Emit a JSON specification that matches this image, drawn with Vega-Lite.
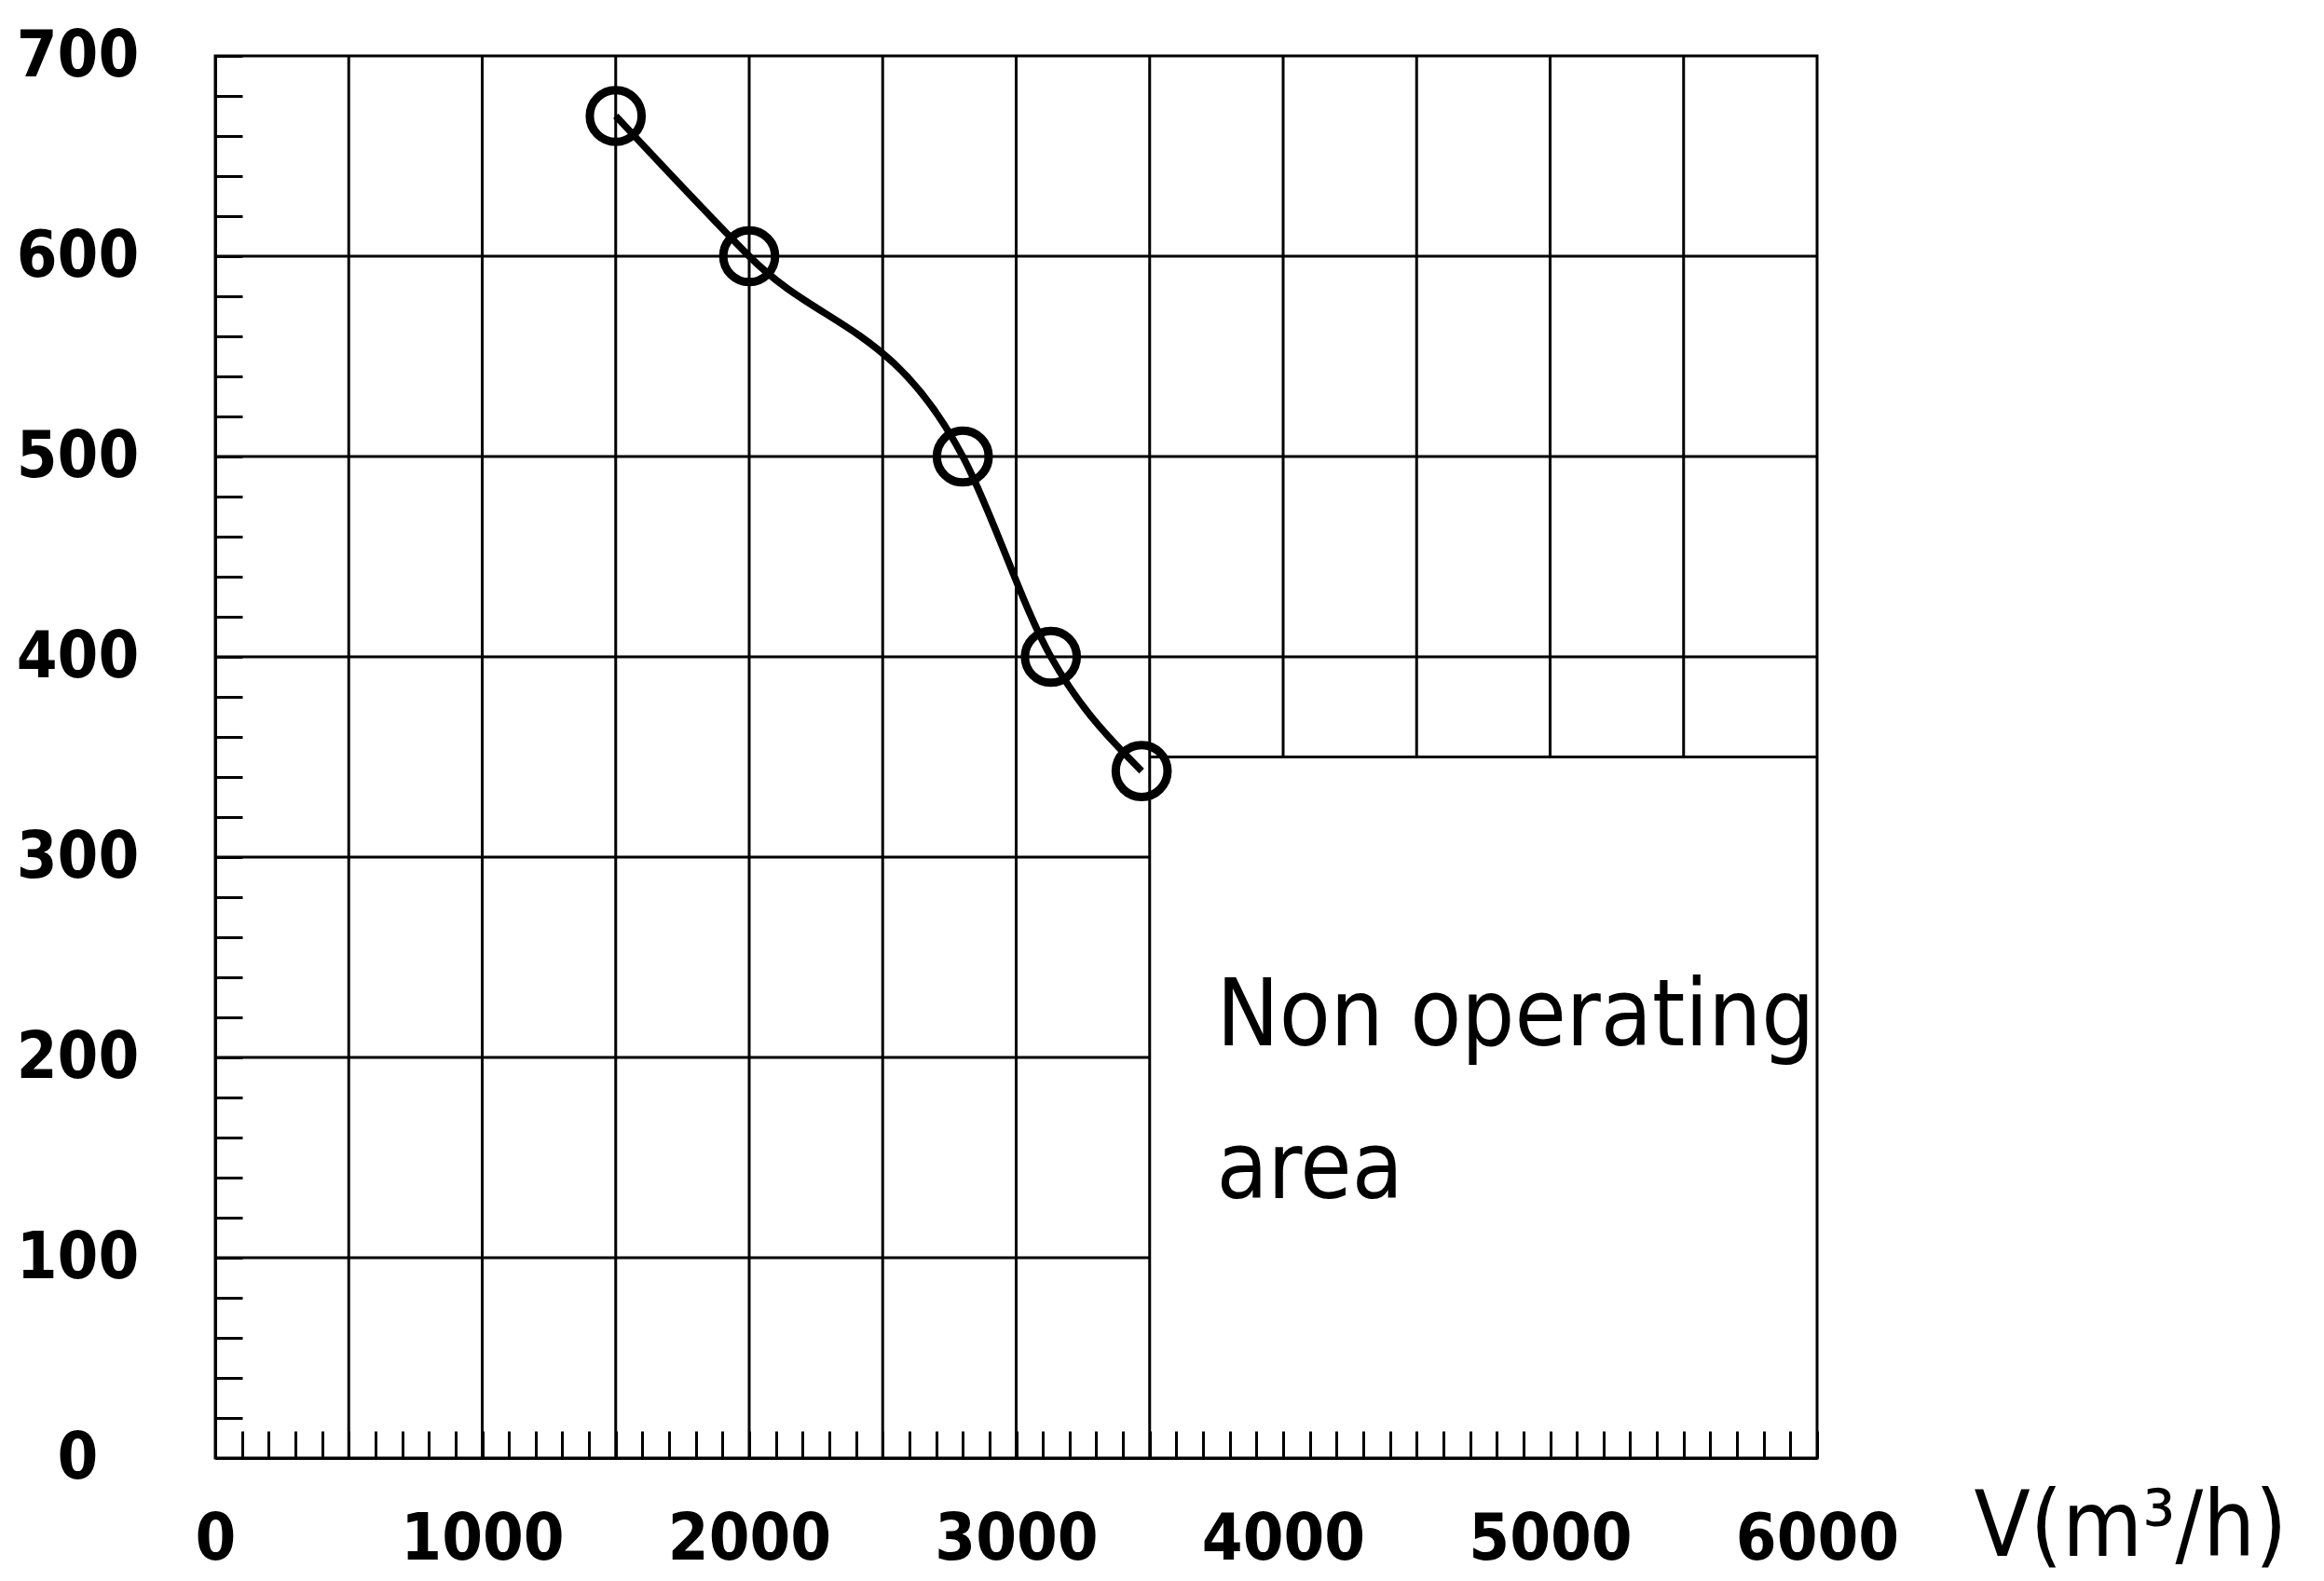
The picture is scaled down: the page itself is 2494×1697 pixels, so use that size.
{
  "$schema": "https://vega.github.io/schema/vega-lite/v6.json",
  "width": 1719,
  "height": 1505,
  "autosize": {"type": "none"},
  "padding": {"left": 231, "top": 60, "right": 544, "bottom": 132},
  "background": "white",
  "config": {
    "view": {"stroke": "black", "strokeWidth": 3},
    "font": "DejaVu Sans Condensed, DejaVu Sans"
  },
  "datasets": {
    "curve": [
      {"V": 1500, "p": 670},
      {"V": 2000, "p": 600},
      {"V": 2800, "p": 500},
      {"V": 3130, "p": 400},
      {"V": 3470, "p": 343}
    ],
    "vgrid": [
      {"V": 500, "p1": 0, "p2": 700},
      {"V": 1000, "p1": 0, "p2": 700},
      {"V": 1500, "p1": 0, "p2": 700},
      {"V": 2000, "p1": 0, "p2": 700},
      {"V": 2500, "p1": 0, "p2": 700},
      {"V": 3000, "p1": 0, "p2": 700},
      {"V": 3500, "p1": 0, "p2": 700},
      {"V": 4000, "p1": 350, "p2": 700},
      {"V": 4500, "p1": 350, "p2": 700},
      {"V": 5000, "p1": 350, "p2": 700},
      {"V": 5500, "p1": 350, "p2": 700}
    ],
    "hgrid": [
      {"p": 100, "v1": 0, "v2": 3500},
      {"p": 200, "v1": 0, "v2": 3500},
      {"p": 300, "v1": 0, "v2": 3500},
      {"p": 350, "v1": 3500, "v2": 6000},
      {"p": 400, "v1": 0, "v2": 6000},
      {"p": 500, "v1": 0, "v2": 6000},
      {"p": 600, "v1": 0, "v2": 6000}
    ],
    "note": [
      {"V": 3750, "p": 206, "label": "Non operating\narea"}
    ]
  },
  "layer": [
    {
      "data": {"name": "vgrid"},
      "mark": {"type": "rule", "color": "black", "strokeWidth": 3},
      "encoding": {
        "x": {
          "field": "V",
          "type": "quantitative",
          "scale": {"domain": [0, 6000], "nice": false, "zero": false},
          "axis": {
            "title": "V(m³/h)",
            "values": [0,100,200,300,400,500,600,700,800,900,1000,1100,1200,1300,1400,1500,1600,1700,1800,1900,2000,2100,2200,2300,2400,2500,2600,2700,2800,2900,3000,3100,3200,3300,3400,3500,3600,3700,3800,3900,4000,4100,4200,4300,4400,4500,4600,4700,4800,4900,5000,5100,5200,5300,5400,5500,5600,5700,5800,5900,6000],
            "tickCount": 200,
            "format": "d",
            "labelExpr": "datum.value % 1000 === 0 ? datum.label : ''",
            "grid": false,
            "tickSize": -29,
            "tickWidth": 3,
            "tickColor": "black",
            "domainColor": "black",
            "domainWidth": 3,
            "labelFontWeight": "bold",
            "labelFontSize": 70,
            "labelColor": "black",
            "labelPadding": 137,
            "labelBaseline": "alphabetic",
            "labelAlign": "center",
            "labelOverlap": false,
            "labelFlush": false,
            "labelBound": false,
            "labelLimit": 0,
            "titleFontWeight": "normal",
            "titleFontSize": 98,
            "titleColor": "black",
            "titleLimit": 0,
            "titleX": 2055,
            "titleY": 104,
            "titleBaseline": "alphabetic",
            "titleAlign": "center"
          }
        },
        "y": {
          "field": "p1",
          "type": "quantitative",
          "scale": {"domain": [0, 700], "nice": false, "zero": false},
          "axis": {
            "title": null,
            "values": [0,20,40,60,80,100,120,140,160,180,200,220,240,260,280,300,320,340,360,380,400,420,440,460,480,500,520,540,560,580,600,620,640,660,680,700],
            "tickCount": 200,
            "format": "d",
            "labelExpr": "datum.value % 100 === 0 ? datum.label : ''",
            "grid": false,
            "tickSize": -29,
            "tickWidth": 3,
            "tickColor": "black",
            "domainColor": "black",
            "domainWidth": 3,
            "labelFontWeight": "bold",
            "labelFontSize": 70,
            "labelColor": "black",
            "labelPadding": 177,
            "labelAlign": "center",
            "labelBaseline": "middle",
            "labelOverlap": false,
            "labelFlush": false,
            "labelBound": false,
            "labelLimit": 0
          }
        },
        "y2": {"field": "p2"}
      }
    },
    {
      "data": {"name": "hgrid"},
      "mark": {"type": "rule", "color": "black", "strokeWidth": 3},
      "encoding": {
        "y": {"field": "p", "type": "quantitative"},
        "x": {"field": "v1", "type": "quantitative"},
        "x2": {"field": "v2"}
      }
    },
    {
      "data": {"name": "curve"},
      "mark": {"type": "line", "color": "black", "strokeWidth": 7.5, "interpolate": "monotone"},
      "encoding": {
        "x": {"field": "V", "type": "quantitative"},
        "y": {"field": "p", "type": "quantitative"}
      }
    },
    {
      "data": {"name": "curve"},
      "mark": {"type": "point", "shape": "circle", "size": 3100, "filled": false, "color": "black", "strokeWidth": 9, "opacity": 1},
      "encoding": {
        "x": {"field": "V", "type": "quantitative"},
        "y": {"field": "p", "type": "quantitative"}
      }
    },
    {
      "data": {"name": "note"},
      "mark": {"type": "text", "align": "left", "baseline": "alphabetic", "fontSize": 100, "lineBreak": "\n", "lineHeight": 164, "color": "black"},
      "encoding": {
        "x": {"field": "V", "type": "quantitative"},
        "y": {"field": "p", "type": "quantitative"},
        "text": {"field": "label"}
      }
    }
  ]
}
